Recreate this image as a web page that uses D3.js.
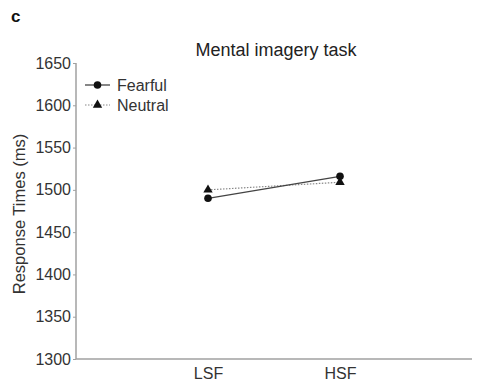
<!DOCTYPE html>
<html><head><meta charset="utf-8">
<script src="https://cdn.jsdelivr.net/npm/d3@7"></script>
<style>body{margin:0;background:#fff}svg{display:block}text{font-family:"Liberation Sans",Arial,sans-serif}</style>
</head><body>
<svg id="chart" width="478" height="383"></svg>
<script>
const categories = ["LSF", "HSF"];
const fearful = [1490, 1516];
const neutral = [1500, 1509];
const yTicks = [1300, 1350, 1400, 1450, 1500, 1550, 1600, 1650];
const seriesNames = ["Fearful", "Neutral"];

(function () {
const svg = d3.select("#chart");
const mLeft = 76, mRight = 472, mTop = 63, mBottom = 359;
const x = d3.scaleLinear().domain([0, 3]).range([mLeft, mRight]);
const y = d3.scaleLinear().domain([1300, 1650]).range([mBottom, mTop]);
const axisColor = "#a0a0a0", textColor = "#333";

// y axis
const ya = svg.append("g").attr("transform", `translate(${mLeft},0)`)
  .call(d3.axisLeft(y).tickValues(yTicks).tickSize(3).tickPadding(2).tickFormat(d3.format("d")));
ya.select(".domain").attr("stroke", axisColor).attr("stroke-width", 1.5).attr("d", `M0,${mTop}V${mBottom}`);
ya.selectAll(".tick line").attr("stroke", axisColor);
ya.selectAll(".tick text").attr("fill", textColor).style("font-size", "16px");

// x axis
const xa = svg.append("g").attr("transform", `translate(0,${mBottom})`)
  .call(d3.axisBottom(x).tickValues([1, 2]).tickSize(0).tickPadding(9).tickFormat(d => categories[d - 1]));
xa.select(".domain").attr("stroke", axisColor).attr("stroke-width", 1.5).attr("d", `M${mLeft},0H${mRight}`);
xa.selectAll(".tick text").attr("fill", textColor).style("font-size", "16px");

// y label
svg.append("text").attr("transform", `translate(25,${(mTop + mBottom) / 2 + 3}) rotate(-90)`)
  .attr("text-anchor", "middle").attr("fill", textColor).style("font-size", "16.5px")
  .text("Response Times (ms)");

// title
svg.append("text").attr("x", 276).attr("y", 56).attr("text-anchor", "middle")
  .attr("fill", "#222").style("font-size", "18px").text("Mental imagery task");

// panel letter
svg.append("text").attr("x", 11).attr("y", 22).attr("fill", "#111")
  .style("font-size", "17px").style("font-weight", "bold").text("c");

const line = d3.line().x((d, i) => x(i + 1)).y(d => y(d));
const tri = d3.symbol().type(d3.symbolTriangle).size(38);

// neutral
svg.append("path").datum(neutral).attr("d", line).attr("fill", "none")
  .attr("stroke", "#888").attr("stroke-width", 1.2).attr("stroke-dasharray", "1.5,1.5");
svg.selectAll(".ntri").data(neutral).enter().append("path")
  .attr("d", tri).attr("transform", (d, i) => `translate(${x(i + 1)},${y(d)})`).attr("fill", "#111");

// fearful
svg.append("path").datum(fearful).attr("d", line).attr("fill", "none")
  .attr("stroke", "#444").attr("stroke-width", 1.3);
svg.selectAll(".fcirc").data(fearful).enter().append("circle")
  .attr("cx", (d, i) => x(i + 1)).attr("cy", d => y(d)).attr("r", 3.8).attr("fill", "#111");

// legend
const lg = svg.append("g");
[0, 1].forEach(i => {
  const ly = 85 + i * 20;
  lg.append("line").attr("x1", 85).attr("x2", 110).attr("y1", ly).attr("y2", ly)
    .attr("stroke", i === 0 ? "#444" : "#888").attr("stroke-width", i === 0 ? 1.3 : 1.2)
    .attr("stroke-dasharray", i === 0 ? null : "1.5,1.5");
  if (i === 0) lg.append("circle").attr("cx", 97.5).attr("cy", ly).attr("r", 3.8).attr("fill", "#111");
  else lg.append("path").attr("d", tri).attr("transform", `translate(97.5,${ly})`).attr("fill", "#111");
  lg.append("text").attr("x", 117).attr("y", ly + 6).attr("fill", textColor)
    .style("font-size", "16px").text(seriesNames[i]);
});
})();
</script>
</body></html>
